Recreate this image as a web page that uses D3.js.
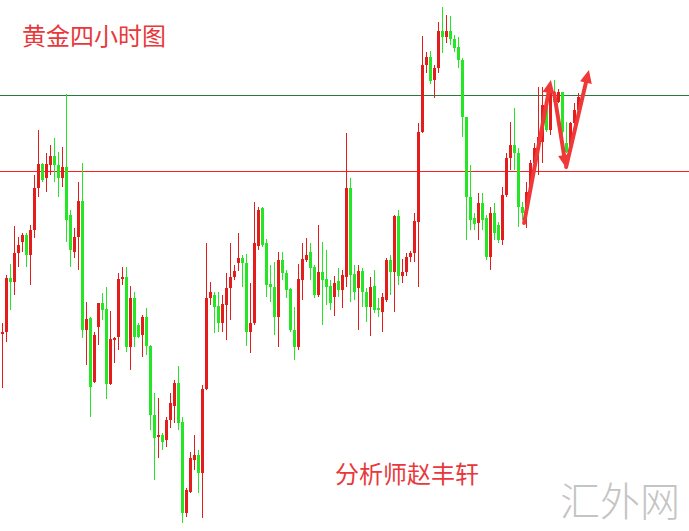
<!DOCTYPE html>
<html><head><meta charset="utf-8">
<script src="https://cdn.jsdelivr.net/npm/d3@7"></script>
<style>html,body{margin:0;padding:0;background:#fff;}svg{display:block;}</style>
</head><body>
<svg id="chart" width="689" height="531"></svg>
<script>
// OHLC values (arbitrary price units)
const opens  = [266,268,322,318,347,358,365,345,370,412,436,422,435,444,435,422,433,385,348,363,399,270,282,218,273,297,291,216,261,263,321,323,253,302,275,265,283,254,185,163,165,160,180,194,217,178,87,108,140,145,127,211,302,305,294,277,295,312,323,337,342,337,268,277,354,392,357,316,313,283,340,327,311,270,253,320,340,348,333,305,328,321,314,303,319,310,323,412,326,312,329,308,293,314,292,288,300,340,328,384,324,328,343,347,378,468,535,543,520,532,569,563,569,561,553,540,483,403,382,377,397,382,343,387,375,360,405,442,455,447,393,387,408,437,452,458,495,470,507,498,508,457,450,477,490];
const highs  = [277,325,336,374,363,367,367,375,425,470,437,447,455,462,448,453,506,390,372,418,437,298,283,268,297,307,313,289,263,327,333,333,314,308,277,285,292,255,207,202,167,183,207,220,234,183,112,148,165,150,215,357,318,308,308,305,327,357,335,367,345,346,317,398,393,393,361,335,338,348,348,330,312,293,336,357,362,357,335,375,358,350,320,324,332,330,467,422,335,335,332,312,323,330,302,307,342,345,385,390,341,347,349,387,477,564,548,549,535,578,593,585,584,565,563,542,483,435,387,407,407,385,393,397,378,413,447,478,492,452,398,418,440,457,513,513,502,512,520,511,508,478,478,497,507];
const lows   = [212,258,290,305,333,348,333,315,362,403,418,408,425,418,403,413,358,333,342,330,262,235,183,217,255,280,201,215,237,250,315,248,230,253,262,243,245,170,120,142,150,153,172,177,170,77,83,107,130,107,82,210,295,267,268,268,260,280,320,329,313,254,247,275,350,353,303,298,265,253,320,302,268,240,250,300,338,320,302,303,275,295,290,284,303,292,313,298,300,270,293,278,264,287,283,268,298,305,288,315,317,324,338,338,313,467,527,516,502,527,547,557,555,548,532,463,360,370,370,360,370,340,330,360,357,355,403,430,430,373,380,372,403,427,425,437,468,465,495,497,465,447,448,475,488];
const closes = [268,322,318,347,355,365,345,370,412,436,420,436,444,435,422,433,380,350,363,399,270,281,213,265,297,290,216,261,262,321,323,253,302,263,263,283,254,185,162,165,158,180,197,217,177,87,110,142,145,127,211,302,308,293,277,296,312,323,329,342,337,268,277,357,390,355,315,313,283,340,327,310,270,253,321,341,345,332,305,328,320,313,297,317,310,325,412,325,308,329,308,293,313,290,290,303,340,328,384,324,328,343,347,379,468,535,543,519,532,569,563,569,561,552,540,483,403,380,376,397,380,343,387,367,360,405,442,455,447,393,387,408,437,452,463,495,470,507,498,508,468,448,477,490,503];
// horizontal reference levels
const levels = [505, 429];
const levelColors = ["#2a7a3e", "#ff1e1e"];
// annotation arrows: [startIndex, startValue, endIndex, endValue]
const arrows = [[130.4,377,137.1,520],[137.9,507,140.9,432],[140.9,433,146.6,530]];
const titleText = "黄金四小时图";
const authorText = "分析师赵丰轩";
const watermarkText = "汇外网";

const W = 689, H = 531;
const svg = d3.select("#chart");
const idx = d3.range(opens.length);
const x = d3.scaleBand().domain(idx).range([0.5, 580.5]).paddingInner(0.25).paddingOuter(0.125);
const xc = d3.scaleLinear().domain([0, opens.length - 1]).range([x(0) + x.bandwidth()/2, x(opens.length-1) + x.bandwidth()/2]);
const y = d3.scaleLinear().domain([69, 600]).range([H, 0]);
const UP = "#e41c1c", DOWN = "#24e624";

svg.append("rect").attr("width", W).attr("height", H).attr("fill", "#fff");

// reference lines
levels.forEach((v, i) => {
  svg.append("rect")
    .attr("x", 0).attr("width", W)
    .attr("y", Math.round(y(v))).attr("height", 1)
    .attr("fill", levelColors[i]);
});

const g = svg.append("g");
const candles = g.selectAll("g.c").data(idx).join("g").attr("class","c");
candles.append("line")
  .attr("x1", i => Math.floor(x(i) + x.bandwidth()/2) + 0.5)
  .attr("x2", i => Math.floor(x(i) + x.bandwidth()/2) + 0.5)
  .attr("y1", i => Math.round(y(highs[i])))
  .attr("y2", i => Math.round(y(lows[i])))
  .attr("stroke", i => closes[i] >= opens[i] ? UP : DOWN)
  .attr("stroke-width", 1);
candles.append("rect")
  .attr("x", i => Math.round(x(i)))
  .attr("width", Math.round(x.bandwidth()))
  .attr("y", i => Math.round(y(Math.max(opens[i], closes[i]))))
  .attr("height", i => Math.max(2, Math.round(Math.abs(y(opens[i]) - y(closes[i])))))
  .attr("fill", i => closes[i] >= opens[i] ? UP : DOWN);

// arrows
const AR = "#f03838";
arrows.forEach(a => {
  const x1 = xc(a[0]), y1 = y(a[1]), x2 = xc(a[2]), y2 = y(a[3]);
  const ang = Math.atan2(y2 - y1, x2 - x1);
  const L = 13, Wd = 6;
  const bx = x2 - L*Math.cos(ang), by = y2 - L*Math.sin(ang);
  svg.append("line").attr("x1", x1).attr("y1", y1).attr("x2", bx).attr("y2", by)
    .attr("stroke", AR).attr("stroke-width", 4).attr("stroke-linecap","round");
  const px = -Math.sin(ang), py = Math.cos(ang);
  svg.append("path")
    .attr("d", `M${x2},${y2}L${bx + Wd*px},${by + Wd*py}L${bx - Wd*px},${by - Wd*py}Z`)
    .attr("fill", AR);
});

const font = "'Noto Sans CJK SC', 'Noto Sans', sans-serif";
svg.append("text").attr("x", 22).attr("y", 45).text(titleText)
  .attr("font-family", font).attr("font-size", 24).attr("fill", "#e8383c");
svg.append("text").attr("x", 335).attr("y", 483).text(authorText)
  .attr("font-family", font).attr("font-size", 24).attr("fill", "#e8383c");
svg.append("text").attr("x", 560).attr("y", 516).text(watermarkText)
  .attr("font-family", font).attr("font-size", 40).attr("font-weight", 300).attr("fill", "#c4c4c4");
</script>
</body></html>
